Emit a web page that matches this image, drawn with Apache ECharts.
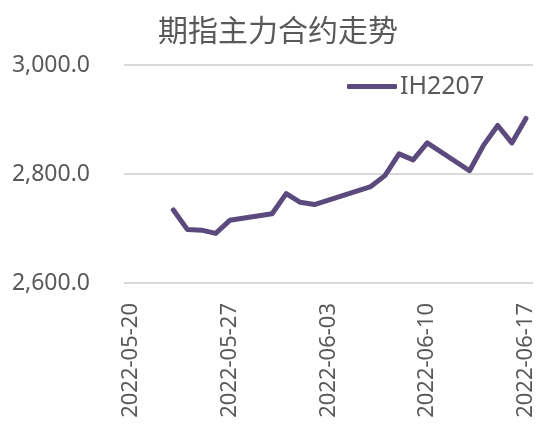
<!DOCTYPE html>
<html lang="zh">
<head>
    <meta charset="UTF-8">
    <title>期指主力合约走势</title>
    <script src="https://cdn.jsdelivr.net/npm/echarts@6/dist/echarts.min.js"></script>
    <style>
        body { margin: 0; padding: 0; background: #ffffff; }
        #chart { width: 537px; height: 425px; }
    </style>
</head>
<body>
<div id="chart"></div>
<script>
    // 日历日（含周末，作为类目轴）
    const calendarDays = [
        "2022-05-20", "2022-05-21", "2022-05-22", "2022-05-23", "2022-05-24", "2022-05-25", "2022-05-26",
        "2022-05-27", "2022-05-28", "2022-05-29", "2022-05-30", "2022-05-31", "2022-06-01", "2022-06-02",
        "2022-06-03", "2022-06-04", "2022-06-05", "2022-06-06", "2022-06-07", "2022-06-08", "2022-06-09",
        "2022-06-10", "2022-06-11", "2022-06-12", "2022-06-13", "2022-06-14", "2022-06-15", "2022-06-16",
        "2022-06-17"
    ];

    // 交易日与收盘价
    const tradeDays = [
        "2022-05-23", "2022-05-24", "2022-05-25", "2022-05-26", "2022-05-27",
        "2022-05-30", "2022-05-31", "2022-06-01", "2022-06-02",
        "2022-06-06", "2022-06-07", "2022-06-08", "2022-06-09", "2022-06-10",
        "2022-06-13", "2022-06-14", "2022-06-15", "2022-06-16", "2022-06-17"
    ];
    const ih2207 = [
        2734, 2698, 2697, 2691, 2715,
        2727, 2764, 2748, 2744,
        2777, 2797, 2837, 2826, 2857,
        2806, 2853, 2889, 2857, 2902
    ];

    const chart = echarts.init(document.getElementById("chart"));

    chart.setOption({
        animation: false,
        title: {
            text: "期指主力合约走势",
            left: 273,
            textAlign: "center",
            top: 10,
            textStyle: {
                fontFamily: "Noto Sans CJK SC",
                fontSize: 30,
                fontWeight: "normal",
                color: "#595959"
            }
        },
        legend: {
            left: 342,
            top: 69,
            icon: "roundRect",
            itemWidth: 50,
            itemHeight: 5,
            itemGap: 5,
            data: ["IH2207"],
            textStyle: {
                fontFamily: "Noto Sans",
                fontSize: 25,
                color: "#595959",
                padding: [0, 0, 0, -2]
            }
        },
        grid: {
            left: 124,
            right: 4,
            top: 65,
            bottom: 142
        },
        xAxis: {
            type: "category",
            data: calendarDays,
            boundaryGap: true,
            axisLine: { show: false },
            axisTick: { show: false },
            axisLabel: {
                interval: 6,
                rotate: 90,
                margin: 20,
                fontFamily: "Noto Sans",
                fontSize: 22,
                color: "#595959"
            }
        },
        yAxis: {
            type: "value",
            min: 2600,
            max: 3000,
            interval: 200,
            axisLine: { show: false },
            axisTick: { show: false },
            splitLine: { lineStyle: { color: "#d9d9d9", width: 2 } },
            axisLabel: {
                margin: 34,
                fontFamily: "Noto Sans",
                fontSize: 23,
                color: "#595959",
                formatter: (v) => v.toLocaleString("en-US", { minimumFractionDigits: 1, maximumFractionDigits: 1 })
            }
        },
        series: [
            {
                name: "IH2207",
                type: "line",
                symbol: "none",
                data: tradeDays.map((d, i) => [d, ih2207[i]]),
                lineStyle: { color: "#5b4a7d", width: 5, cap: "round", join: "round" },
                itemStyle: { color: "#5b4a7d" }
            }
        ]
    });
</script>
</body>
</html>
